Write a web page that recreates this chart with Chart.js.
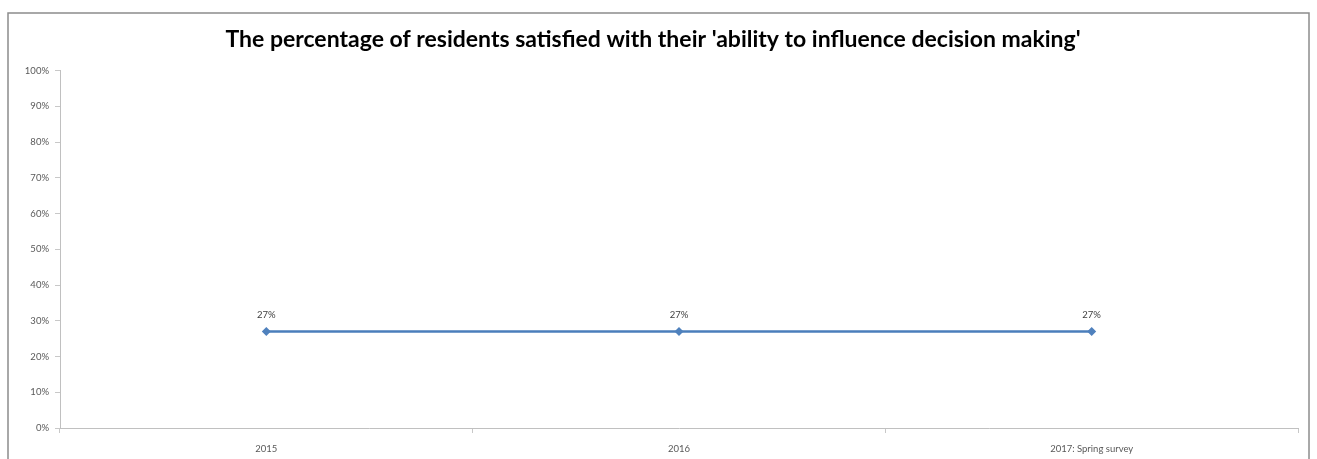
<!DOCTYPE html>
<html>
<head>
<meta charset="utf-8">
<script src="https://cdn.jsdelivr.net/npm/chart.js@4"></script>
<style>
  body { margin: 0; background: #fff; }
  #wrap { width: 1317px; height: 459px; }
</style>
</head>
<body>
<div id="wrap"><canvas id="myChart" width="1317" height="459"></canvas></div>
<script>
// chart data
var categories = ["2015", "2016", "2017: Spring survey"];
var satisfied = [27, 27, 27];
var yTicks = [0, 10, 20, 30, 40, 50, 60, 70, 80, 90, 100];

var titleText = "The percentage of residents satisfied with their 'ability to influence decision making'";

// outer frame like the excel chart box
var framePlugin = {
    id: "frame",
    beforeDraw: function (chart) {
        var ctx = chart.ctx;
        ctx.save();
        ctx.strokeStyle = "#8c8c8c";
        ctx.lineWidth = 1.5;
        ctx.strokeRect(8, 13, 1301, 470);
        ctx.restore();
    }
};

// value labels above the points
var labelPlugin = {
    id: "valueLabels",
    afterDatasetsDraw: function (chart) {
        var ctx = chart.ctx;
        var meta = chart.getDatasetMeta(0);
        ctx.save();
        ctx.font = "9.5px Lato";
        ctx.fillStyle = "#404040";
        ctx.textAlign = "center";
        ctx.textBaseline = "bottom";
        meta.data.forEach(function (pt, i) {
            ctx.fillText(satisfied[i] + "%", pt.x, pt.y - 12);
        });
        ctx.restore();
    }
};

var ctx = document.getElementById("myChart").getContext("2d");

var myChart = new Chart(ctx, {
    type: "line",
    data: {
        labels: categories,
        datasets: [{
            label: "Satisfied",
            data: satisfied,
            borderColor: "#4A7EBB",
            borderWidth: 2.5,
            backgroundColor: "#4F81BD",
            pointStyle: "rectRot",
            pointRadius: 4.5,
            pointBorderWidth: 0,
            tension: 0
        }]
    },
    options: {
        responsive: false,
        animation: false,
        layout: { padding: { left: 8, right: 19, top: 0, bottom: 0 } },
        plugins: {
            legend: { display: false },
            tooltip: { enabled: false },
            title: {
                display: true,
                text: titleText,
                color: "#000",
                font: { family: "Lato", size: 23, weight: "bold" },
                padding: { top: 26, bottom: 17 }
            }
        },
        scales: {
            x: {
                offset: true,
                grid: { offset: true, drawOnChartArea: false, tickLength: 5, color: "#c8c8c8" },
                border: { color: "#c0c0c0", width: 1 },
                ticks: { color: "#595959", font: { family: "Lato", size: 9.5 }, padding: 10, maxRotation: 0 },
                afterFit: function (scale) { scale.height = 31; }
            },
            y: {
                min: 0,
                max: 100,
                afterBuildTicks: function (scale) {
                    scale.ticks = yTicks.map(function (v) { return { value: v }; });
                },
                grid: { drawOnChartArea: false, tickLength: 5, color: "#c8c8c8" },
                border: { color: "#c0c0c0", width: 1 },
                ticks: {
                    color: "#595959",
                    font: { family: "Lato", size: 9.5 },
                    padding: 6,
                    callback: function (v) { return v + "%"; }
                },
                afterFit: function (scale) { scale.width = 52; }
            }
        }
    },
    plugins: [framePlugin, labelPlugin]
});
</script>
</body>
</html>
